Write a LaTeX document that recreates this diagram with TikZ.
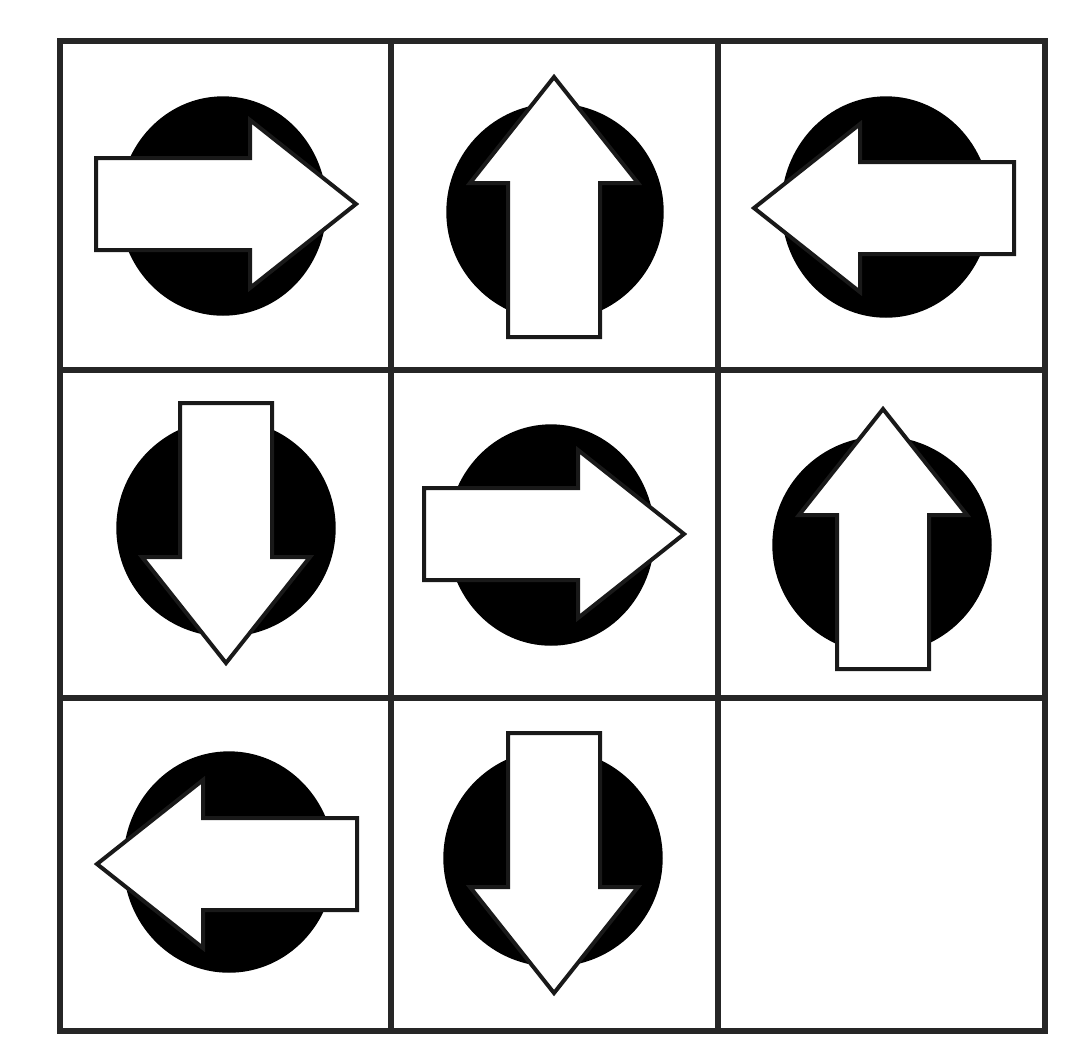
\documentclass[tikz,border=0pt]{standalone}
\usepackage{tikz}
\usetikzlibrary{calc}
\tikzset{
    % grid
    gridline/.style={draw=black!85, line width=0.055cm},
    % signs
    disc/.style={fill=black, draw=black},
    arrowsign/.style={fill=white, draw=black!90, line width=0.04cm, line join=miter},
}
\newcommand{\signarrow}{(-154,-46) -- (0,-46) -- (0,-84) -- (106,0) -- (0,84) -- (0,46) -- (-154,46) -- cycle}

\begin{document}
\begin{tikzpicture}[x=0.01cm, y=-0.01cm]
\useasboundingbox (0,0) rectangle (1080,1056);

% grid
\draw[gridline] (60,41) rectangle (1045,1031);
\foreach \gx in {391,718}
    \draw[gridline] (\gx,41) -- (\gx,1031);
\foreach \gy in {370,698}
    \draw[gridline] (60,\gy) -- (1045,\gy);

% cx/cy/rx/ry : disc,  ox/oy/rot : arrow
\foreach \cx/\cy/\rx/\ry/\ox/\oy/\rot in {
    223/206/103/109/250/204/0,
    555/212/108/108/554/183/90,
    886/207/104/110/860/208/180,
    226/528/109/108/226/557/-90,
    551/535/103/110/578/534/0,
    882/545/109/108/883/515/90,
    229/862/105/110/203/864/180,
    553/858/109/108/554/887/-90}
{
    \fill[disc] (\cx,\cy) ellipse [x radius=\rx, y radius=\ry];
    \draw[arrowsign, shift={(\ox,\oy)}, rotate=\rot] \signarrow;
}
\end{tikzpicture}
\end{document}
